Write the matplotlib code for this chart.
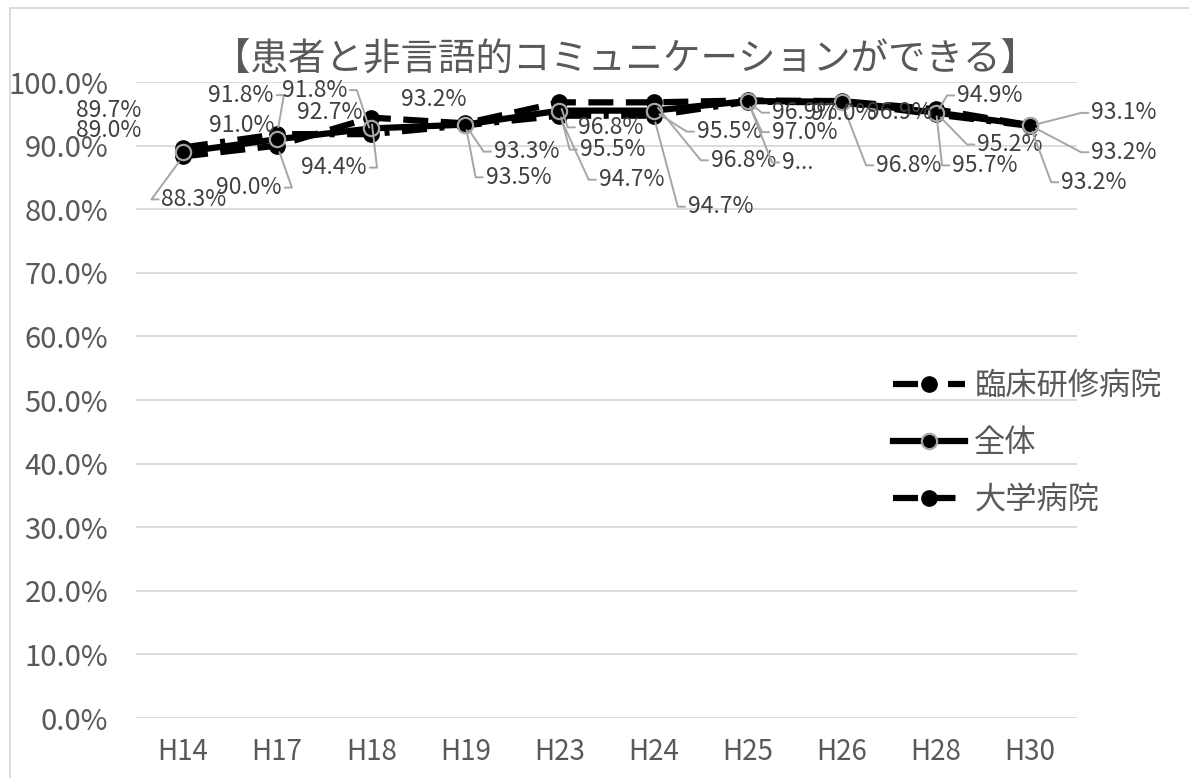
import matplotlib.pyplot as plt
from matplotlib.lines import Line2D
from matplotlib.ticker import PercentFormatter

plt.rcParams['font.family'] = ['Noto Sans CJK JP', 'DejaVu Sans']

# 年度ごとの回答率
years = ['H14', 'H17', 'H18', 'H19', 'H23', 'H24', 'H25', 'H26', 'H28', 'H30']
rinsho = [0.897, 0.918, 0.918, 0.932, 0.947, 0.947, 0.969, 0.968, 0.949, 0.931]
zentai = [0.890, 0.910, 0.927, 0.933, 0.955, 0.955, 0.970, 0.969, 0.952, 0.932]
daigaku = [0.883, 0.900, 0.944, 0.935, 0.968, 0.968, 0.971, 0.970, 0.957, 0.932]
series_names = ['臨床研修病院', '全体', '大学病院']

# data label offsets in pixels (dx, dy up) and leader line flags
rinsho_off = [(-74, 37), (-36, 39), (-57, 44), (-32, 26), (72, -64), (67, -91), (57, -11), (67, -63), (54, 19), (94, 13)]
zentai_off = [(-74, 21), (-35, 14), (-42, 16), (61, -27), (53, -39), (76, -21), (57, -31), (58, -11), (74, -32), (94, -27)]
daigaku_off = [(11, -43), (-28, -42), (-37, -50), (53, -54), (51, -25), (90, -58), (50, -62), (2, -12), (49, -56), (64, -57)]
rinsho_lead = [0, 1, 1, 0, 1, 1, 1, 1, 1, 1]
zentai_lead = [0, 0, 0, 1, 1, 1, 1, 0, 1, 1]
daigaku_lead = [1, 1, 1, 1, 1, 1, 1, 0, 1, 1]
truncated = {(2, 6): '9...'}   # label cut off in the chart

fig = plt.figure(figsize=(11.89, 7.78), dpi=100)
ax = fig.add_axes([136 / 1189, 60 / 778, 941 / 1189, 636 / 778])

x = list(range(len(years)))
styles = [
    dict(ls=(0, (4, 2, 0.8, 2)), lw=4.5, marker='o', ms=11, mfc='black', mec='black', zorder=3),
    dict(ls='-', lw=4.5, marker='o', ms=11, mfc='black', mec='#a6a6a6', mew=1.6, zorder=5),
    dict(ls=(0, (4, 2)), lw=4.5, marker='o', ms=11, mfc='black', mec='black', zorder=4),
]
values = [rinsho, zentai, daigaku]
offsets = [rinsho_off, zentai_off, daigaku_off]
leaders = [rinsho_lead, zentai_lead, daigaku_lead]

for s, (vals, st) in enumerate(zip(values, styles)):
    ax.plot(x, vals, color='black', **st)
    for i, v in enumerate(vals):
        dx, dy = offsets[s][i]
        txt = truncated.get((s, i), f'{v:.1%}')
        arrow = None
        if leaders[s][i]:
            right = dx > 0
            arrow = dict(arrowstyle='-', color='#a6a6a6', lw=1.4, shrinkA=0, shrinkB=5,
                         relpos=(0, 0.5) if right else (1, 0.5),
                         connectionstyle=f"arc,angleA={180 if right else 0},armA=10,rad=0")
        ax.annotate(txt, (i, v), xytext=(dx, dy), textcoords='offset pixels',
                    ha='center', va='center', fontsize=16.5, color='#404040',
                    arrowprops=arrow, zorder=6)

ax.set_xlim(-0.5, len(years) - 0.5)
ax.set_ylim(0, 1)
ax.set_yticks([i / 10 for i in range(11)])
ax.yaxis.set_major_formatter(PercentFormatter(1.0, decimals=1))
ax.set_xticks(x)
ax.set_xticklabels(years)
ax.tick_params(axis='y', length=0, pad=20, labelsize=21, labelcolor='#595959')
ax.tick_params(axis='x', length=0, pad=14, labelsize=20, labelcolor='#595959')
ax.grid(axis='y', color='#d9d9d9', lw=1.3)
ax.set_axisbelow(True)
for sp in ax.spines.values():
    sp.set_visible(False)

fig.text(0.526, (778 - 60) / 778, '【患者と非言語的コミュニケーションができる】',
         ha='center', va='center', fontsize=27, color='#595959')

handles = [Line2D([], [], color='black', **{k: v for k, v in st.items() if k != 'zorder'}) for st in styles]
fig.legend(handles, series_names, loc='upper left', bbox_to_anchor=(893 / 1189, (778 - 370) / 778),
           bbox_transform=fig.transFigure, frameon=False, fontsize=22.5, labelcolor='#595959',
           handlelength=2.3, handletextpad=0.3, labelspacing=0.8, borderpad=0, borderaxespad=0)

# chart area border
fig.add_artist(Line2D([10 / 1189, 10 / 1189], [0, 1 - 8 / 778], transform=fig.transFigure, color='#d9d9d9', lw=1.3))
fig.add_artist(Line2D([10 / 1189, 1], [1 - 8 / 778, 1 - 8 / 778], transform=fig.transFigure, color='#d9d9d9', lw=1.3))

fig.savefig('out.png', dpi=100)
